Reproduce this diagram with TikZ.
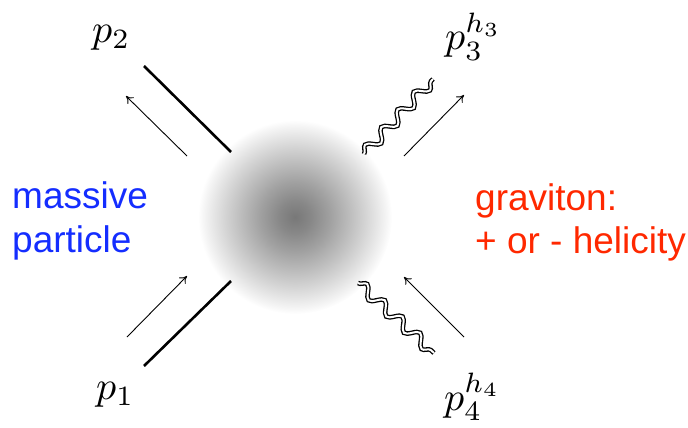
\documentclass[tikz,border=0pt]{standalone}
\usepackage{graphicx}
\usepackage{fontspec}
\setsansfont{Liberation Sans}
\usetikzlibrary{decorations.pathmorphing,arrows.meta}
\definecolor{mblue}{RGB}{20,45,255}
\definecolor{gred}{RGB}{255,40,0}
\pgfdeclareradialshading{blobshade}{\pgfpoint{0bp}{0bp}}{color(0bp)=(black!53); color(4bp)=(black!47); color(9bp)=(black!37); color(14bp)=(black!26); color(18bp)=(black!17); color(21bp)=(black!10); color(23.5bp)=(black!4); color(25bp)=(white); color(50bp)=(white)}
\newcommand{\biglab}[1]{\scalebox{4}{\normalsize$#1$}}
\begin{document}
\begin{tikzpicture}[x=1pt,y=-1pt,
  thickline/.style={line width=2.6pt},
  mom/.style={line width=0.9pt,-{To[length=7pt,width=9pt]}},
  grav/.style={double=white,double distance=2pt,line width=1.3pt,decorate,decoration={snake,amplitude=5.5pt,segment length=24pt}},
  lab/.style={anchor=base west,inner sep=0pt},
  txt/.style={anchor=base west,inner sep=0pt,font=\sffamily\fontsize{37}{44}\selectfont}]
\useasboundingbox (0,0) rectangle (688,428);
\coordinate (blob) at (295,217);
\shade[shading=blobshade] (blob) circle (97);
% massive legs
\coordinate (a1) at (144,66); \coordinate (a2) at (231,152);
\coordinate (b1) at (144,366); \coordinate (b2) at (231,281);
\draw[thickline] (a1) -- (a2);
\draw[thickline] (b1) -- (b2);
% momentum arrows
\coordinate (m2s) at (187,156); \coordinate (m2e) at (126,96);
\coordinate (m1s) at (127,337); \coordinate (m1e) at (187,276);
\coordinate (m3s) at (404,156); \coordinate (m3e) at (464,95);
\coordinate (m4s) at (464,337); \coordinate (m4e) at (404,277);
\draw[mom] (m2s) -- (m2e);
\draw[mom] (m1s) -- (m1e);
\draw[mom] (m3s) -- (m3e);
\draw[mom] (m4s) -- (m4e);
% gravitons
\coordinate (g3s) at (364,154); \coordinate (g3e) at (433,79);
\coordinate (g4s) at (358,283); \coordinate (g4e) at (434,353);
\draw[grav] (g3s) -- (g3e);
\draw[grav] (g4s) -- (g4e);
% labels
\node[lab] (p2) at (92,43) {\biglab{p_2}};
\node[lab] (p3) at (445,50) {\biglab{p_3^{h_3}}};
\node[lab] (p1) at (96,399) {\biglab{p_1}};
\node[lab] (p4) at (444,410) {\biglab{p_4^{h_4}}};
\node[txt,text=mblue] (t1) at (12,208) {massive};
\node[txt,text=mblue] (t2) at (12,252) {particle};
\node[txt,text=gred] (t3) at (475,210) {graviton:};
\node[txt,text=gred] (t4) at (475,253) {+ or - helicity};
\end{tikzpicture}
\end{document}
